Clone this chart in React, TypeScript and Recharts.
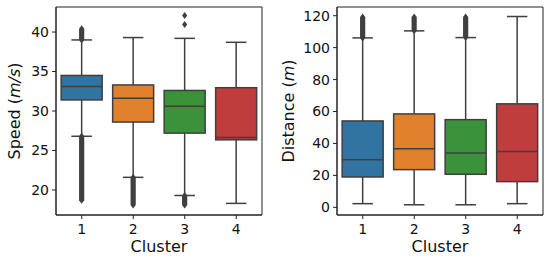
import React from 'react';
import { ComposedChart, Bar, XAxis, YAxis, Label, ReferenceArea } from 'recharts';

// ---------- data ----------
const clusters = ['1', '2', '3', '4'];

// Speed (m/s)
const speedLowerWhisker = [26.8, 21.6, 19.3, 18.3];
const speedQ1 = [31.4, 28.6, 27.2, 26.35];
const speedMedian = [33.1, 31.6, 30.6, 26.65];
const speedQ3 = [34.5, 33.3, 32.6, 32.95];
const speedUpperWhisker = [39.0, 39.3, 39.2, 38.7];
const speedLowOutlierMin: (number | null)[] = [18.7, 18.1, 18.1, null];
const speedHighOutlierMax: (number | null)[] = [40.4, null, null, null];
const speedHighOutlierPoints: number[][] = [[], [], [40.94, 42.1], []];
const speedTicks = [20, 25, 30, 35, 40];
const speedDomain: [number, number] = [16.83, 43.17];

// Distance (m)
const distLowerWhisker = [2.3, 1.6, 1.6, 2.3];
const distQ1 = [19.0, 23.6, 20.7, 16.1];
const distMedian = [29.8, 36.7, 34.0, 34.9];
const distQ3 = [54.1, 58.5, 54.9, 64.8];
const distUpperWhisker = [106.1, 110.5, 106.3, 119.5];
const distLowOutlierMin: (number | null)[] = [null, null, null, null];
const distHighOutlierMax: (number | null)[] = [119.2, 119.2, 119.2, null];
const distHighOutlierPoints: number[][] = [[], [], [], []];
const distTicks = [0, 20, 40, 60, 80, 100, 120];
const distDomain: [number, number] = [-4.8, 125.45];

const boxColors = ['#3274a1', '#e1812c', '#3a923a', '#c03d3e'];
const LINE = '#3f3f3f';
const FONT = '"DejaVu Sans", sans-serif';

type Row = {
  cluster: string;
  whiskers: [number, number];
  q1: number;
  median: number;
  q3: number;
  lowOut: number | null;
  highOut: number | null;
  points: number[];
};

function buildRows(
  lw: number[], q1: number[], med: number[], q3: number[], uw: number[],
  lowOut: (number | null)[], highOut: (number | null)[], pts: number[][]
): Row[] {
  return clusters.map((c, i) => ({
    cluster: c,
    whiskers: [lw[i], uw[i]],
    q1: q1[i],
    median: med[i],
    q3: q3[i],
    lowOut: lowOut[i],
    highOut: highOut[i],
    points: pts[i],
  }));
}

const speedRows = buildRows(speedLowerWhisker, speedQ1, speedMedian, speedQ3, speedUpperWhisker,
  speedLowOutlierMin, speedHighOutlierMax, speedHighOutlierPoints);
const distRows = buildRows(distLowerWhisker, distQ1, distMedian, distQ3, distUpperWhisker,
  distLowOutlierMin, distHighOutlierMax, distHighOutlierPoints);

const DH = 3.5; // diamond half height
const DW = 2.6; // diamond half width

const BoxShape = (props: any) => {
  const { x, y, width, height, payload, index } = props;
  const [lo, hi] = payload.whiskers as [number, number];
  const py = (v: number) => y + (height * (hi - v)) / (hi - lo);
  const cx = x + width / 2;
  const capHalf = width / 4;
  const band = (a: number, b: number) => {
    const top = Math.min(py(a), py(b));
    const bot = Math.max(py(a), py(b));
    return `M${cx},${top - DH} L${cx + DW},${top} L${cx + DW},${bot} L${cx},${bot + DH} L${cx - DW},${bot} L${cx - DW},${top} Z`;
  };
  const diamond = (v: number) => {
    const p = py(v);
    return `M${cx},${p - DH} L${cx + DW},${p} L${cx},${p + DH} L${cx - DW},${p} Z`;
  };
  return (
    <g>
      {payload.lowOut != null && <path d={band(payload.lowOut, lo)} fill={LINE} />}
      {payload.highOut != null && <path d={band(hi, payload.highOut)} fill={LINE} />}
      {payload.points.map((v: number, k: number) => (
        <path key={k} d={diamond(v)} fill={LINE} />
      ))}
      <line x1={cx} x2={cx} y1={py(payload.q3)} y2={py(hi)} stroke={LINE} strokeWidth={1.5} />
      <line x1={cx} x2={cx} y1={py(payload.q1)} y2={py(lo)} stroke={LINE} strokeWidth={1.5} />
      <line x1={cx - capHalf} x2={cx + capHalf} y1={py(hi)} y2={py(hi)} stroke={LINE} strokeWidth={1.5} />
      <line x1={cx - capHalf} x2={cx + capHalf} y1={py(lo)} y2={py(lo)} stroke={LINE} strokeWidth={1.5} />
      <rect
        x={x}
        y={py(payload.q3)}
        width={width}
        height={py(payload.q1) - py(payload.q3)}
        fill={boxColors[index]}
        stroke={LINE}
        strokeWidth={1.5}
      />
      <line x1={x} x2={x + width} y1={py(payload.median)} y2={py(payload.median)} stroke={LINE} strokeWidth={1.5} />
    </g>
  );
};

type PanelProps = {
  rows: Row[];
  domain: [number, number];
  ticks: number[];
  label: string;
  unit: string;
  yAxisWidth: number;
  marginLeft: number;
  marginRight: number;
  labelOffset: number;
};

function Panel({ rows, domain, ticks, label, unit, yAxisWidth, marginLeft, marginRight, labelOffset }: PanelProps) {
  return (
    <ComposedChart
      width={275}
      height={262}
      data={rows}
      margin={{ top: 7, right: marginRight, bottom: 0, left: marginLeft }}
      barCategoryGap="10%"
    >
      <XAxis
        dataKey="cluster"
        xAxisId="main"
        height={47}
        tickSize={4}
        tickMargin={5}
        stroke="#222"
        tick={{ fill: '#111', fontSize: 14, fontFamily: FONT }}
        tickLine={{ stroke: '#222' }}
      >
        <Label
          content={(p: any) => (
            <text
              x={p.viewBox.x + p.viewBox.width / 2}
              y={p.viewBox.y + 37}
              textAnchor="middle"
              fontSize={16}
              fontFamily={FONT}
              fill="#111"
            >
              Cluster
            </text>
          )}
        />
      </XAxis>
      <YAxis
        yAxisId="main"
        type="number"
        domain={domain}
        ticks={ticks}
        width={yAxisWidth}
        tickSize={4}
        tickMargin={3}
        stroke="#222"
        tick={{ fill: '#111', fontSize: 14, fontFamily: FONT }}
        allowDataOverflow
      >
        <Label
          content={(p: any) => {
            const lx = p.viewBox.x + labelOffset;
            const ly = p.viewBox.y + p.viewBox.height / 2;
            return (
              <text
                x={lx}
                y={ly}
                transform={`rotate(-90, ${lx}, ${ly})`}
                textAnchor="middle"
                fontSize={16}
                fontFamily={FONT}
                fill="#111"
              >
                {label} (<tspan fontStyle="italic">{unit}</tspan>)
              </text>
            );
          }}
        />
      </YAxis>
      <Bar
        dataKey="whiskers"
        xAxisId="main"
        yAxisId="main"
        shape={BoxShape}
        isAnimationActive={false}
      />
      <ReferenceArea
        xAxisId="main"
        yAxisId="main"
        x1={clusters[0]}
        x2={clusters[clusters.length - 1]}
        y1={domain[0]}
        y2={domain[1]}
        fill="none"
        fillOpacity={0}
        stroke="#222"
        strokeWidth={1}
        ifOverflow="visible"
      />
    </ComposedChart>
  );
}

export default function App() {
  return (
    <div style={{ position: 'absolute', left: 0, top: 0, width: 550, height: 262, background: '#fff', display: 'flex' }}>
      <Panel
        rows={speedRows}
        domain={speedDomain}
        ticks={speedTicks}
        label="Speed"
        unit="m/s"
        yAxisWidth={40}
        marginLeft={16}
        marginRight={13}
        labelOffset={4}
      />
      <Panel
        rows={distRows}
        domain={distDomain}
        ticks={distTicks}
        label="Distance"
        unit="m"
        yAxisWidth={45}
        marginLeft={17}
        marginRight={7}
        labelOffset={2}
      />
    </div>
  );
}
